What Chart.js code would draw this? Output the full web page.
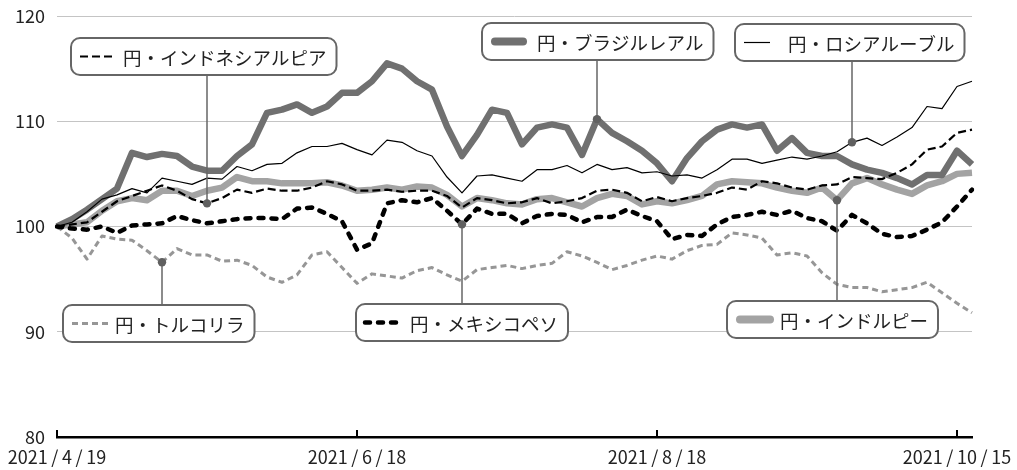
<!DOCTYPE html>
<html>
<head>
<meta charset="utf-8">
<script src="https://cdn.jsdelivr.net/npm/chart.js@4.4.1/dist/chart.umd.min.js"></script>
<style>
  body { margin: 0; background: #fff; }
  canvas { display: block; }
</style>
</head>
<body>
<canvas id="chart" width="1017" height="470"></canvas>
<script>
// every second trading day (Tokyo calendar), 2021/4/19 = 100
const dates = [
  '2021/4/19','2021/4/21','2021/4/23','2021/4/27','2021/4/30','2021/5/7','2021/5/11','2021/5/13',
  '2021/5/17','2021/5/19','2021/5/21','2021/5/25','2021/5/27','2021/5/31','2021/6/2','2021/6/4',
  '2021/6/8','2021/6/10','2021/6/14','2021/6/16','2021/6/18','2021/6/22','2021/6/24','2021/6/28',
  '2021/6/30','2021/7/2','2021/7/6','2021/7/8','2021/7/12','2021/7/14','2021/7/16','2021/7/20',
  '2021/7/26','2021/7/28','2021/7/30','2021/8/3','2021/8/5','2021/8/10','2021/8/12','2021/8/16',
  '2021/8/18','2021/8/20','2021/8/24','2021/8/26','2021/8/30','2021/9/1','2021/9/3','2021/9/7',
  '2021/9/9','2021/9/13','2021/9/15','2021/9/17','2021/9/22','2021/9/27','2021/9/29','2021/10/1',
  '2021/10/5','2021/10/7','2021/10/11','2021/10/13','2021/10/15','2021/10/19'
];
const tickDates = ['2021/4/19', '2021/6/18', '2021/8/18', '2021/10/15'];
const yMin = 80, yMax = 120, yStep = 10;

const russia = [100.0, 100.4, 101.4, 102.6, 103.0, 103.6, 103.2, 104.6, 104.3, 104.0, 104.6, 104.5, 105.7, 105.3, 105.9, 106.0,
  107.0, 107.6, 107.6, 107.9, 107.3, 106.8, 108.2, 108.0, 107.2, 106.7, 104.7, 103.2, 104.8, 104.9, 104.6, 104.3,
  105.4, 105.4, 105.8, 105.1, 105.9, 105.4, 105.6, 105.1, 105.2, 104.8, 104.9, 104.6, 105.4, 106.4, 106.4, 106.0,
  106.3, 106.6, 106.4, 106.7, 107.1, 108.0, 108.4, 107.7, 108.5, 109.4, 111.4, 111.2, 113.3, 113.8];
const indonesia = [100.0, 100.2, 100.4, 101.4, 102.4, 102.9, 103.4, 103.9, 103.4, 102.6, 102.2, 102.7, 103.5, 103.2, 103.6, 103.4,
  103.4, 103.7, 104.3, 104.0, 103.4, 103.4, 103.5, 103.3, 103.4, 103.4, 102.9, 101.8, 102.7, 102.5, 102.2, 102.3,
  102.7, 102.2, 102.4, 102.7, 103.4, 103.5, 103.2, 102.4, 102.8, 102.4, 102.7, 102.9, 103.2, 103.7, 103.5, 104.3,
  104.1, 103.7, 103.5, 103.9, 104.0, 104.7, 104.6, 104.5, 105.1, 105.9, 107.3, 107.6, 108.9, 109.2];
const mexico = [100.0, 99.8, 99.7, 100.0, 99.4, 100.1, 100.2, 100.3, 101.0, 100.6, 100.3, 100.5, 100.7, 100.8, 100.8, 100.7,
  101.7, 101.8, 101.2, 100.5, 97.8, 98.4, 102.2, 102.5, 102.3, 102.7, 101.5, 100.2, 101.7, 101.2, 101.2, 100.3,
  101.0, 101.2, 101.1, 100.4, 100.9, 100.9, 101.6, 101.0, 100.5, 98.8, 99.2, 99.1, 100.2, 100.9, 101.1, 101.4,
  101.1, 101.5, 100.8, 100.5, 99.6, 101.1, 100.3, 99.3, 99.0, 99.1, 99.7, 100.4, 101.9, 103.5];
const brazil = [100.0, 100.7, 101.6, 102.6, 103.6, 107.0, 106.6, 106.9, 106.7, 105.7, 105.3, 105.3, 106.7, 107.8, 110.8, 111.1,
  111.6, 110.8, 111.4, 112.7, 112.7, 113.8, 115.5, 115.0, 113.8, 113.0, 109.5, 106.7, 108.7, 111.1, 110.8, 107.8,
  109.4, 109.7, 109.4, 106.8, 110.2, 108.9, 108.1, 107.2, 106.0, 104.3, 106.5, 108.1, 109.2, 109.7, 109.4, 109.7,
  107.2, 108.4, 107.0, 106.7, 106.7, 105.9, 105.4, 105.1, 104.6, 104.0, 104.9, 104.9, 107.2, 105.9];
const india = [100.0, 100.2, 100.4, 101.5, 102.4, 102.7, 102.5, 103.4, 103.4, 102.9, 103.4, 103.7, 104.7, 104.3, 104.3, 104.1,
  104.1, 104.1, 104.2, 103.9, 103.4, 103.5, 103.7, 103.5, 103.8, 103.7, 103.0, 101.9, 102.7, 102.5, 102.2, 102.1,
  102.6, 102.7, 102.3, 101.9, 102.7, 103.1, 102.9, 102.1, 102.4, 102.2, 102.5, 102.9, 104.0, 104.3, 104.2, 104.1,
  103.7, 103.4, 103.2, 103.7, 102.5, 104.1, 104.6, 104.0, 103.5, 103.1, 103.9, 104.3, 105.0, 105.1];
const turkey = [100.0, 98.9, 96.9, 99.1, 98.8, 98.7, 97.7, 96.6, 97.9, 97.3, 97.3, 96.7, 96.8, 96.3, 95.2, 94.7,
  95.4, 97.3, 97.6, 96.1, 94.6, 95.5, 95.3, 95.1, 95.8, 96.1, 95.4, 94.8, 95.9, 96.1, 96.3, 96.0,
  96.3, 96.5, 97.6, 97.2, 96.6, 95.9, 96.3, 96.8, 97.2, 96.9, 97.7, 98.2, 98.3, 99.4, 99.2, 98.9,
  97.3, 97.5, 97.2, 95.6, 94.5, 94.2, 94.2, 93.8, 94.0, 94.2, 94.7, 93.7, 92.7, 91.8];

const FONT = '"Noto Sans CJK JP", "Noto Sans", sans-serif';
Chart.defaults.font.family = FONT;
Chart.defaults.color = '#222';

// first dataset is painted on top
const datasets = [
  {label: '円・ロシアルーブル', data: russia, borderColor: '#000', borderWidth: 1.2},
  {label: '円・インドネシアルピア', data: indonesia, borderColor: '#000', borderWidth: 2.2, borderDash: [8, 4]},
  {label: '円・メキシコペソ', data: mexico, borderColor: '#000', borderWidth: 4.5, borderDash: [5, 8], borderCapStyle: 'round'},
  {label: '円・ブラジルレアル', data: brazil, borderColor: '#707070', borderWidth: 6.5},
  {label: '円・インドルピー', data: india, borderColor: '#a3a3a3', borderWidth: 6.5},
  {label: '円・トルコリラ', data: turkey, borderColor: '#969696', borderWidth: 3, borderDash: [6, 4]}
];
datasets.forEach(d => {
  d.pointRadius = 0;
  d.tension = 0;
  d.fill = false;
  d.borderJoinStyle = 'round';
});

// label boxes: which series, which point the leader goes to, and where the box sits
const callouts = [
  {ds: 1, at: 10, left: 71, top: 38, sample: 33, gap: 10},
  {ds: 3, at: 36, left: 482, top: 23, sample: 36, gap: 10},
  {ds: 0, at: 53, left: 735, top: 24, sample: 26, gap: 18},
  {ds: 5, at: 7, left: 63, top: 305, sample: 36, gap: 7},
  {ds: 2, at: 27, left: 356, top: 304, sample: 38, gap: 7},
  {ds: 4, at: 52, left: 727, top: 301, sample: 38, gap: 6}
];

function roundRect(ctx, x, y, w, h, r) {
  ctx.beginPath();
  ctx.moveTo(x + r, y);
  ctx.arcTo(x + w, y, x + w, y + h, r);
  ctx.arcTo(x + w, y + h, x, y + h, r);
  ctx.arcTo(x, y + h, x, y, r);
  ctx.arcTo(x, y, x + w, y, r);
  ctx.closePath();
}

const calloutPlugin = {
  id: 'callouts',
  afterDatasetsDraw(chart) {
    const ctx = chart.ctx;
    const boxH = 37;
    ctx.save();
    ctx.font = '18.5px ' + FONT;
    callouts.forEach(c => {
      const ds = chart.data.datasets[c.ds];
      const pt = chart.getDatasetMeta(c.ds).data[c.at];
      const textW = ctx.measureText(ds.label).width;
      const w = 9 + c.sample + c.gap + textW + 10;
      const edge = c.top + boxH < pt.y ? c.top + boxH : c.top;
      // leader
      ctx.strokeStyle = '#666';
      ctx.lineWidth = 1.5;
      ctx.setLineDash([]);
      ctx.beginPath();
      ctx.moveTo(pt.x, pt.y);
      ctx.lineTo(pt.x, edge);
      ctx.stroke();
      ctx.fillStyle = '#606060';
      ctx.beginPath();
      ctx.arc(pt.x, pt.y, 4.2, 0, Math.PI * 2);
      ctx.fill();
      // box
      roundRect(ctx, c.left, c.top, w, boxH, 9);
      ctx.fillStyle = '#fff';
      ctx.fill();
      ctx.lineWidth = 2;
      ctx.strokeStyle = '#666';
      ctx.stroke();
      // sample line
      const ym = c.top + boxH / 2;
      const thick = ds.borderWidth > 5;
      ctx.save();
      ctx.strokeStyle = ds.borderColor;
      ctx.lineWidth = thick ? 8 : ds.borderWidth;
      ctx.setLineDash(ds.borderDash || []);
      ctx.lineCap = thick ? 'round' : (ds.borderCapStyle || 'butt');
      const x0 = c.left + 9 + (thick ? 4 : 0);
      const x1 = c.left + 9 + c.sample - (thick ? 4 : 0);
      ctx.beginPath();
      ctx.moveTo(x0, ym);
      ctx.lineTo(x1, ym);
      ctx.stroke();
      ctx.restore();
      // text
      ctx.fillStyle = '#222';
      ctx.textBaseline = 'middle';
      ctx.textAlign = 'left';
      ctx.fillText(ds.label, c.left + 9 + c.sample + c.gap, ym + 1);
    });
    ctx.restore();
  }
};

// small upward tick marks on the date axis
const dateTickPlugin = {
  id: 'dateTicks',
  afterDraw(chart) {
    const ctx = chart.ctx;
    const xs = chart.scales.x;
    const bottom = chart.chartArea.bottom;
    ctx.save();
    ctx.strokeStyle = '#000';
    ctx.lineWidth = 2;
    tickDates.forEach(d => {
      const x = xs.getPixelForValue(dates.indexOf(d));
      ctx.beginPath();
      ctx.moveTo(x, bottom);
      ctx.lineTo(x, bottom - 7);
      ctx.stroke();
    });
    ctx.restore();
  }
};

new Chart(document.getElementById('chart').getContext('2d'), {
  type: 'line',
  data: {labels: dates, datasets: datasets},
  options: {
    responsive: false,
    animation: false,
    devicePixelRatio: 1,
    layout: {padding: {left: 0, right: 45, top: 16, bottom: 0}},
    plugins: {legend: {display: false}, tooltip: {enabled: false}},
    scales: {
      x: {
        grid: {display: false, drawTicks: false},
        border: {display: true, color: '#000', width: 2.5},
        ticks: {
          autoSkip: false,
          maxRotation: 0,
          padding: 9,
          font: {size: 18},
          color: '#222',
          callback(v, i) {
            const d = dates[i];
            return tickDates.includes(d) ? d.replace(/\//g, '\u2009/\u2009') : '';
          }
        },
        afterFit(s) { s.height = 33; s.paddingLeft = 0; s.paddingRight = 0; }
      },
      y: {
        min: yMin,
        max: yMax,
        grid: {
          drawTicks: false,
          color: c => c.tick.value === yMin ? 'rgba(0,0,0,0)' : '#c4c4c4',
          lineWidth: 1
        },
        border: {display: false},
        ticks: {stepSize: yStep, padding: 12, font: {size: 18}, color: '#222'},
        afterFit(s) { s.width = 57; s.paddingTop = 0; s.paddingBottom = 0; }
      }
    }
  },
  plugins: [calloutPlugin, dateTickPlugin]
});
</script>
</body>
</html>
